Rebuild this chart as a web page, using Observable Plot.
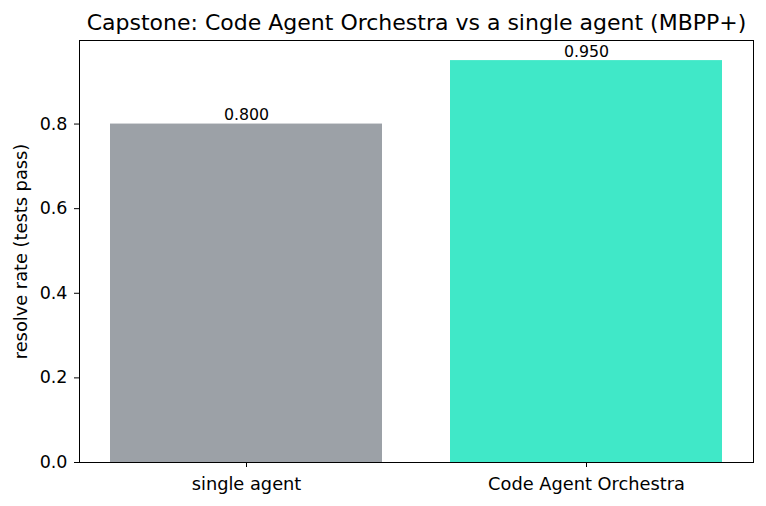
<!DOCTYPE html>
<html>
<head>
<meta charset="utf-8">
<script src="https://cdn.jsdelivr.net/npm/d3@7"></script>
<script src="https://cdn.jsdelivr.net/npm/@observablehq/plot@0.6"></script>
<style>
  html, body { margin: 0; padding: 0; background: #fff; }
  svg { font-family: "DejaVu Sans", sans-serif; }
</style>
</head>
<body>
<div id="chart"></div>
<script>
const categories = ["single agent", "Code Agent Orchestra"];
const values = [0.800, 0.950];
const colors = ["#9ca1a7", "#40e8c8"];
const yTicks = [0, 0.2, 0.4, 0.6, 0.8];
const title = "Capstone: Code Agent Orchestra vs a single agent (MBPP+)";
const yLabel = "resolve rate (tests pass)";

const data = categories.map((c, i) => ({cat: c, value: values[i], color: colors[i]}));

const chart = Plot.plot({
  width: 766,
  height: 506,
  marginTop: 40,
  marginLeft: 79,
  marginRight: 13,
  marginBottom: 44,
  style: {fontFamily: "DejaVu Sans, sans-serif", fontSize: "17px", color: "#000", background: "#fff"},
  x: {domain: categories, paddingInner: 0.2, paddingOuter: 0.09, label: null},
  y: {domain: [0, 0.9975], label: null},
  marks: [
    Plot.barY(data, {x: "cat", y: "value", fill: "color"}),
    Plot.text(data, {x: "cat", y: "value", text: d => d.value.toFixed(3), dy: -9, fontSize: 15.8, fill: "#000"}),
    Plot.frame({stroke: "#000", strokeWidth: 1}),
    Plot.axisY({ticks: yTicks, tickFormat: d => d.toFixed(1), tickSize: 5, tickPadding: 7, fontSize: 17.5, label: null}),
    Plot.axisX({tickSize: 5, tickPadding: 10, fontSize: 17.8, label: null}),
    Plot.text([title], {frameAnchor: "top", lineAnchor: "middle", dy: -18, fontSize: 22, fill: "#000"}),
    Plot.text([yLabel], {frameAnchor: "left", textAnchor: "middle", lineAnchor: "middle", rotate: -90, dx: -58, fontSize: 17.8, fill: "#000"})
  ]
});
document.getElementById("chart").appendChild(chart);
</script>
</body>
</html>
